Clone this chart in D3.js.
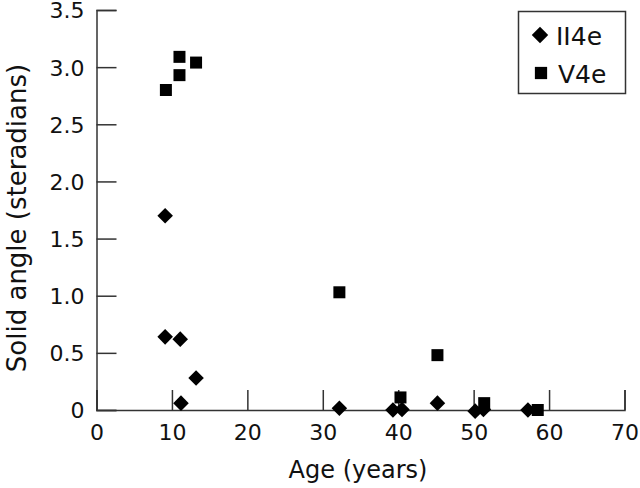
<!DOCTYPE html>
<html>
<head>
<meta charset="utf-8">
<script src="https://cdn.jsdelivr.net/npm/d3@7"></script>
<style>
  html, body { margin: 0; padding: 0; background: #fff; }
  svg { display: block; }
  text { font-family: "DejaVu Sans", sans-serif; fill: #111; }
</style>
</head>
<body>
<svg id="chart" width="640" height="488"></svg>
<script>
// Data
const ii4eAge   = [9.1, 9.1, 11.1, 13.2, 11.2, 32.2, 39.3, 40.5, 45.2, 50.2, 51.3, 57.2];
const ii4eAngle = [1.70, 0.64, 0.62, 0.28, 0.06, 0.015, 0.0, 0.005, 0.06, -0.01, 0.005, 0.0];
const v4eAge    = [9.2, 11.0, 11.0, 13.2, 32.2, 45.2, 40.3, 51.4, 58.5];
const v4eAngle  = [2.80, 2.93, 3.09, 3.04, 1.03, 0.48, 0.11, 0.06, 0.0];
const xTicks = [0, 10, 20, 30, 40, 50, 60, 70];
const yTicks = [0, 0.5, 1.0, 1.5, 2.0, 2.5, 3.0, 3.5];
const yTickLabels = ["0", "0.5", "1.0", "1.5", "2.0", "2.5", "3.0", "3.5"];
const seriesNames = ["II4e", "V4e"];

const svg = d3.select("#chart");
const x = d3.scaleLinear().domain([0, 70]).range([96.5, 624.5]);
const y = d3.scaleLinear().domain([0, 3.5]).range([410, 10]);

const axisColor = "#333";

// X axis
const gx = svg.append("g").attr("transform", `translate(0,${y(0)})`)
  .call(d3.axisBottom(x).tickValues(xTicks).tickSize(-20).tickPadding(30).tickFormat(d3.format("d")));
// Y axis
const gy = svg.append("g").attr("transform", `translate(${x(0)},0)`)
  .call(d3.axisLeft(y).tickValues(yTicks).tickSize(-20).tickPadding(12).tickFormat((d, i) => yTickLabels[i]));

[gx, gy].forEach(g => {
  g.select(".domain").attr("stroke", axisColor).attr("stroke-width", 1.5);
  g.selectAll(".tick line").attr("stroke", axisColor).attr("stroke-width", 1.5);
  g.selectAll(".tick text").attr("font-size", 22).attr("font-family", "DejaVu Sans, sans-serif").attr("fill", "#111");
});
gx.selectAll(".tick text").attr("dy", "0");
gy.selectAll(".tick text").attr("dy", "0.36em");

// Axis titles
svg.append("text").attr("x", 358).attr("y", 478).attr("text-anchor", "middle")
  .attr("font-size", 24).text("Age (years)");
svg.append("text").attr("transform", "translate(26,218) rotate(-90)").attr("text-anchor", "middle")
  .attr("font-size", 26).text("Solid angle (steradians)");

// Diamonds (II4e)
svg.append("g").selectAll("path").data(ii4eAge).join("path")
  .attr("d", d3.symbol().type(d3.symbolSquare).size(121))
  .attr("transform", (d, i) => `translate(${x(d)},${y(ii4eAngle[i])}) rotate(45)`)
  .attr("fill", "#000");

// Squares (V4e)
svg.append("g").selectAll("path").data(v4eAge).join("path")
  .attr("d", d3.symbol().type(d3.symbolSquare).size(144))
  .attr("transform", (d, i) => `translate(${x(d)},${y(v4eAngle[i])})`)
  .attr("fill", "#000");

// Legend
const lg = svg.append("g");
lg.append("rect").attr("x", 518.5).attr("y", 11.5).attr("width", 107).attr("height", 82)
  .attr("fill", "#fff").attr("stroke", axisColor).attr("stroke-width", 1.5);
lg.append("path").attr("d", d3.symbol().type(d3.symbolSquare).size(135))
  .attr("transform", "translate(540,35) rotate(45)").attr("fill", "#000");
lg.append("text").attr("x", 556).attr("y", 45).attr("font-size", 25).text(seriesNames[0]);
lg.append("path").attr("d", d3.symbol().type(d3.symbolSquare).size(150))
  .attr("transform", "translate(541,73)").attr("fill", "#000");
lg.append("text").attr("x", 558).attr("y", 83).attr("font-size", 25).text(seriesNames[1]);
</script>
</body>
</html>
